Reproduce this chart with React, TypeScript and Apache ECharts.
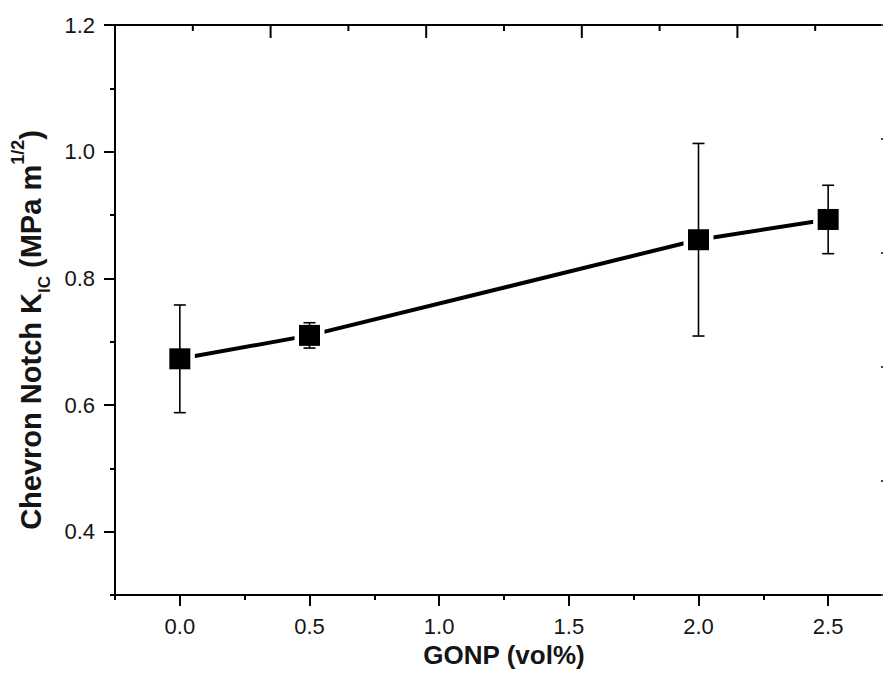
import React, { useEffect, useRef } from "react";
import * as echarts from "echarts";

const xValues = [0, 0.5, 2.0, 2.5];
const kicValues = [0.673, 0.71, 0.861, 0.893];
const kicErrors = [0.085, 0.02, 0.152, 0.054];
const xMajorTicks = [0, 0.5, 1.0, 1.5, 2.0, 2.5];
const xMinorTicks = [-0.25, 0.25, 0.75, 1.25, 1.75, 2.25, 2.75];
const yMajorTicks = [0.4, 0.6, 0.8, 1.0, 1.2];
const yMinorTicks = [0.3, 0.5, 0.7, 0.9, 1.1];
// Top frame (left over from a companion plot): 0..5 across the full width
const frameMajorTicks = [1, 2, 3, 4];
const frameMinorTicks = [0.5, 1.5, 2.5, 3.5, 4.5];

const FONT = "'Liberation Sans', Arial, Helvetica, sans-serif";
const INK = "#000";
const TXT = "#151515";
const X_MIN = -0.25;
const X_MAX = 2.75;
const Y_MIN = 0.3;
const Y_MAX = 1.2;

export default function App() {
  const ref = useRef<HTMLDivElement>(null);
  useEffect(() => {
    if (!ref.current) return;
    const chart = echarts.init(ref.current, undefined, { renderer: "svg" });
    const pts = xValues.map((x, i) => [x, kicValues[i]]);
    const errs = xValues.map((x, i) => [x, kicValues[i], kicErrors[i]]);
    const toMain = (v: number) => X_MIN + (v / 5) * (X_MAX - X_MIN);
    const frameTicks = [
      ...frameMajorTicks.map((v) => [toMain(v), Y_MAX, 13]),
      ...frameMinorTicks.map((v) => [toMain(v), Y_MAX, 6]),
    ];
    const mkLine = () => ({ show: true, onZero: false, lineStyle: { color: INK, width: 2 } });
    const hiddenLine = () => ({ show: false, onZero: false });
    chart.setOption({
      animation: false,
      backgroundColor: "#fff",
      grid: { left: 115, top: 25, right: 0, bottom: 74 },
      xAxis: [
        {
          type: "value", min: X_MIN, max: X_MAX, position: "bottom",
          axisLine: mkLine(),
          axisTick: { show: true, customValues: xMajorTicks, length: 11, inside: false, lineStyle: { color: INK, width: 2 } },
          axisLabel: { show: true, customValues: xMajorTicks, formatter: (v: number) => v.toFixed(1), margin: 20, fontSize: 22, color: TXT, fontFamily: FONT },
          splitLine: { show: false },
          name: "GONP (vol%)", nameLocation: "middle", nameGap: 45,
          nameTextStyle: { fontSize: 26, fontWeight: "bold", color: TXT, fontFamily: FONT },
        },
        {
          type: "value", min: X_MIN, max: X_MAX, position: "bottom",
          axisLine: hiddenLine(),
          axisTick: { show: true, customValues: xMinorTicks, length: 5, lineStyle: { color: INK, width: 2 } },
          axisLabel: { show: false },
          splitLine: { show: false },
        },
        {
          type: "value", min: X_MIN, max: X_MAX, position: "top",
          axisLine: mkLine(),
          axisTick: { show: false },
          axisLabel: { show: false },
          splitLine: { show: false },
        },
      ],
      yAxis: [
        {
          type: "value", min: Y_MIN, max: Y_MAX, position: "left",
          axisLine: mkLine(),
          axisTick: { show: true, customValues: yMajorTicks, length: 11, inside: false, lineStyle: { color: INK, width: 2 } },
          axisLabel: { show: true, customValues: yMajorTicks, formatter: (v: number) => v.toFixed(1), margin: 20, fontSize: 22, color: TXT, fontFamily: FONT },
          splitLine: { show: false },
        },
        {
          type: "value", min: Y_MIN, max: Y_MAX, position: "left",
          axisLine: hiddenLine(),
          axisTick: { show: true, customValues: yMinorTicks, length: 5, lineStyle: { color: INK, width: 2 } },
          axisLabel: { show: false },
          splitLine: { show: false },
        },
        {
          type: "value", min: 0, max: 5, position: "right",
          axisLine: { show: true, onZero: false, lineStyle: { color: "#333", width: 2 } },
          axisTick: { show: true, customValues: [0, 1, 2, 3, 4, 5], inside: true, length: 12, lineStyle: { color: "#444", width: 2 } },
          axisLabel: { show: false },
          splitLine: { show: false },
        },
      ],
      graphic: [
        {
          type: "text",
          x: 31,
          y: 330,
          rotation: Math.PI / 2,
          style: {
            text: "{m|Chevron Notch K}{sub|IC}{m| (MPa m}{sup|1/2}{m|)}",
            align: "center",
            verticalAlign: "middle",
            fill: TXT,
            rich: {
              m: { fontSize: 29, fontWeight: "bold", fontFamily: FONT, lineHeight: 44, fill: TXT },
              sub: { fontSize: 17, fontWeight: "bold", fontFamily: FONT, lineHeight: 30, verticalAlign: "bottom", fill: TXT },
              sup: { fontSize: 18, fontWeight: "bold", fontFamily: FONT, lineHeight: 20, verticalAlign: "top", fill: TXT },
            },
          },
        },
      ],
      series: [
        {
          type: "custom", xAxisIndex: 0, yAxisIndex: 0, data: frameTicks,
          encode: { x: 0, y: 1 }, z: 10, silent: true, clip: false,
          renderItem: (params: any, api: any) => {
            const p = api.coord([api.value(0), api.value(1)]);
            const len = api.value(2);
            return {
              type: "line",
              shape: { x1: p[0], y1: p[1], x2: p[0], y2: p[1] + len },
              style: { stroke: INK, lineWidth: 2 },
            };
          },
        },
        {
          type: "line", xAxisIndex: 0, yAxisIndex: 0, data: pts,
          symbol: "none", lineStyle: { color: INK, width: 4 }, z: 2,
        },
        {
          type: "scatter", xAxisIndex: 0, yAxisIndex: 0, data: pts,
          symbol: "rect", symbolSize: 30, itemStyle: { color: "#fff", opacity: 1 }, z: 3,
        },
        {
          type: "custom", xAxisIndex: 0, yAxisIndex: 0, data: errs,
          encode: { x: 0, y: 1 }, z: 4,
          renderItem: (params: any, api: any) => {
            const x = api.value(0);
            const y = api.value(1);
            const e = api.value(2);
            const top = api.coord([x, y + e]);
            const bot = api.coord([x, y - e]);
            const hw = 6;
            const style = { stroke: INK, lineWidth: 1.6 };
            return {
              type: "group",
              children: [
                { type: "line", shape: { x1: top[0], y1: top[1], x2: bot[0], y2: bot[1] }, style },
                { type: "line", shape: { x1: top[0] - hw, y1: top[1], x2: top[0] + hw, y2: top[1] }, style },
                { type: "line", shape: { x1: bot[0] - hw, y1: bot[1], x2: bot[0] + hw, y2: bot[1] }, style },
              ],
            };
          },
        },
        {
          type: "scatter", xAxisIndex: 0, yAxisIndex: 0, data: pts,
          symbol: "rect", symbolSize: 21, itemStyle: { color: INK, opacity: 1 }, z: 5,
        },
      ],
    });
    return () => chart.dispose();
  }, []);
  return (
    <div
      style={{ position: "fixed", left: 0, top: 0, width: 883, height: 673, overflow: "hidden", background: "#fff" }}
    >
      <div ref={ref} style={{ position: "absolute", left: 0, top: 0, width: 893, height: 673 }} />
    </div>
  );
}
